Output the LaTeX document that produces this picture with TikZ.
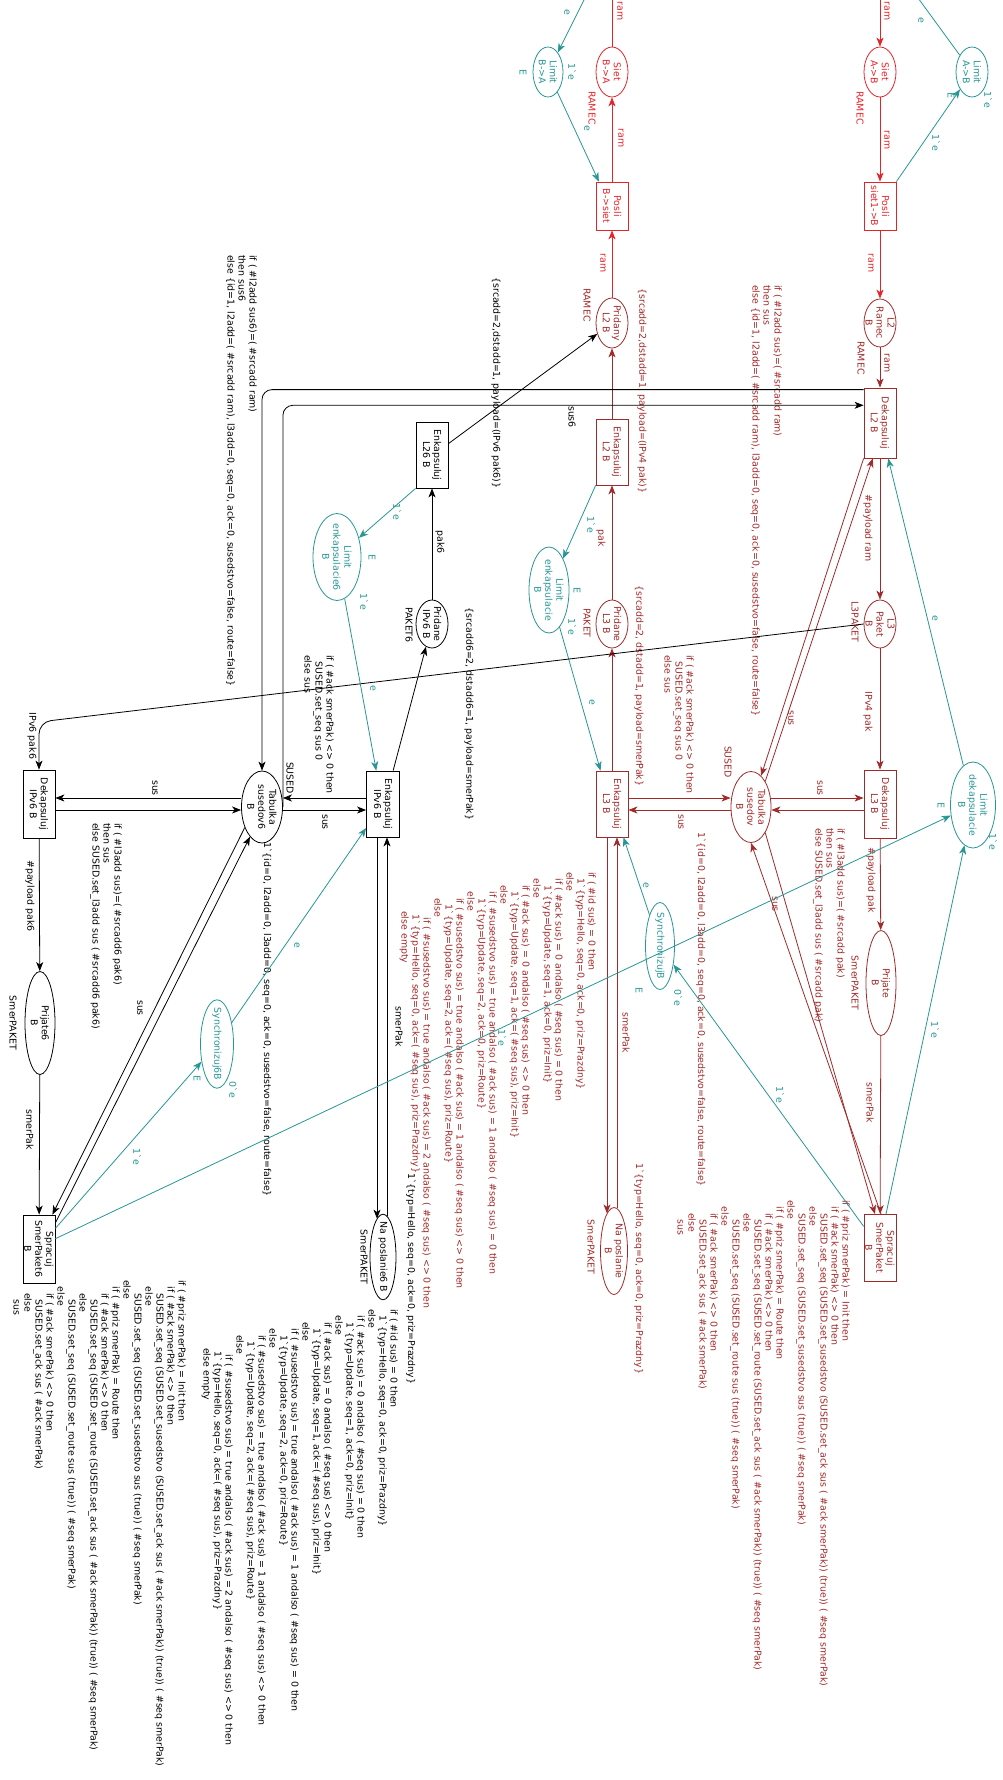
\documentclass[tikz,border=0pt]{standalone}
\usepackage{fontspec}
\setmainfont{DejaVu Sans}
\usetikzlibrary{shapes.geometric,arrows.meta,calc}
\definecolor{cred}{RGB}{232,35,40}
\definecolor{cdr}{RGB}{160,42,42}
\definecolor{cteal}{RGB}{40,150,150}
\newcommand\bq{\textasciigrave}
\newdimen\idtunit \idtunit=6.5pt
\newcommand\idt[1]{\hspace*{#1\idtunit}}
\newcommand\bigexpr{%
if ( \#id sus) = 0 then\\
\idt{1}1\bq\{typ=Hello, seq=0, ack=0, priz=Prazdny\}\\
else\\
\idt{1}if ( \#ack sus) = 0 andalso ( \#seq sus) = 0 then\\
\idt{2}1\bq\{typ=Update, seq=1, ack=0, priz=Init\}\\
\idt{1}else\\
\idt{2}if ( \#ack sus) = 0 andalso ( \#seq sus) <> 0 then\\
\idt{3}1\bq\{typ=Update, seq=1, ack=( \#seq sus), priz=Init\}\\
\idt{2}else\\
\idt{3}if ( \#susedstvo sus) = true andalso ( \#ack sus) = 1 andalso ( \#seq sus) = 0 then\\
\idt{4}1\bq\{typ=Update, seq=2, ack=0, priz=Route\}\\
\idt{3}else\\
\idt{4}if ( \#susedstvo sus) = true andalso ( \#ack sus) = 1 andalso ( \#seq sus) <> 0 then\\
\idt{5}1\bq\{typ=Update, seq=2, ack=( \#seq sus), priz=Route\}\\
\idt{4}else\\
\idt{7}if ( \#susedstvo sus) = true andalso ( \#ack sus) = 2 andalso ( \#seq sus) <> 0 then\\
\idt{6.5}1\bq\{typ=Hello, seq=0, ack=( \#seq sus), priz=Prazdny\}\\
\idt{6}else empty}
\newcommand\sprexpr{%
if ( \#priz smerPak) = Init then\\
\idt{1}if ( \#ack smerPak) <> 0 then\\
\idt{2}SUSED.set\_seq (SUSED.set\_susedstvo (SUSED.set\_ack sus ( \#ack smerPak)) (true)) ( \#seq smerPak)\\
\idt{1}else\\
\idt{2}SUSED.set\_seq (SUSED.set\_susedstvo sus (true)) ( \#seq smerPak)\\
else\\
\idt{1}if ( \#priz smerPak) = Route then\\
\idt{2}if ( \#ack smerPak) <> 0 then\\
\idt{3}SUSED.set\_seq (SUSED.set\_route (SUSED.set\_ack sus ( \#ack smerPak)) (true)) ( \#seq smerPak)\\
\idt{2}else\\
\idt{3}SUSED.set\_seq (SUSED.set\_route sus (true)) ( \#seq smerPak)\\
\idt{1}else\\
\idt{2}if ( \#ack smerPak) <> 0 then\\
\idt{3}SUSED.set\_ack sus ( \#ack smerPak)\\
\idt{2}else\\
\idt{3}sus}
\begin{document}
\begin{tikzpicture}[x=1pt,y=-1pt,
 every node/.style={font=\fontsize{9.4}{11}\selectfont, rotate=-90},
 pl/.style={ellipse, draw, line width=0.8pt, inner sep=-5pt, align=center},
 tr/.style={rectangle, draw, line width=0.8pt, inner sep=0pt, align=center},
 arcb/.style={line width=0.8pt, -{Stealth[length=9pt,width=7pt,inset=2.5pt]}},
 arR/.style={arcb, cred}, arD/.style={arcb, cdr}, arT/.style={arcb, cteal}, arK/.style={arcb, black},
 lb/.style={inner sep=0pt},
 blk/.style={inner sep=0pt, align=left, anchor=north west},
 ]
\useasboundingbox (0,0) rectangle (1002,1780);
\clip (0,0) rectangle (1002,1780);
\fill[white] (0,0) rectangle (1002,1780);

% ---------- places and transitions, module B (red) ----------
\node[pl,cred,minimum width=50pt,minimum height=32pt] (sietAB) at (880,72) {Siet\\A->B};
\node[pl,cteal,minimum width=50pt,minimum height=32pt] (limAB) at (972,72) {Limit\\A->B};
\node[tr,cred,minimum width=48pt,minimum height=32pt] (posliAB) at (880,206) {Posli\\siet1->B};
\node[pl,cdr,minimum width=48pt,minimum height=32pt] (l2ram) at (880,323) {L2\\Ramec\\B};
\node[tr,cdr,minimum width=70pt,minimum height=32pt] (dekL2) at (880,423) {Dekapsuluj\\L2 B};
\node[pl,cdr,minimum width=48pt,minimum height=32pt] (l3pak) at (880,624) {L3\\Paket\\B};
\node[tr,cdr,minimum width=68pt,minimum height=32pt] (dekL3) at (880,804) {Dekapsuluj\\L3 B};
\node[pl,cteal,minimum width=86pt,minimum height=45pt] (limdek) at (973,805) {Limit\\dekapsulacie\\B};
\node[pl,cdr,minimum width=71pt,minimum height=40pt] (tab) at (751,807) {Tabulka\\susedov\\B};
\node[pl,cdr,minimum width=105pt,minimum height=30pt] (prij) at (881,983) {Prijate\\B};
\node[tr,cdr,minimum width=67pt,minimum height=32pt] (sprac) at (880,1248) {Spracuj\\SmerPaket\\B};
\node[pl,cteal,minimum width=87pt,minimum height=29pt] (sync) at (660,946) {SynchronizujB};
\node[pl,cdr,minimum width=87pt,minimum height=27pt] (naposl) at (614,1251) {Na poslanie\\B};
\node[tr,cdr,minimum width=66pt,minimum height=32pt] (enkL3) at (612,804) {Enkapsuluj\\L3 B};
\node[pl,cdr,minimum width=48pt,minimum height=32pt] (pridL3) at (612,624) {Pridane\\L3 B};
\node[pl,cteal,minimum width=86pt,minimum height=40pt] (limenk) at (549,590) {Limit\\enkapsulacie\\B};
\node[tr,cdr,minimum width=66pt,minimum height=32pt] (enkL2) at (612,452) {Enkapsuluj\\L2 B};
\node[pl,cdr,minimum width=50pt,minimum height=32pt] (pridL2) at (612,323) {Pridany\\L2 B};
\node[tr,cred,minimum width=48pt,minimum height=32pt] (posliBA) at (612,206) {Posli\\B->siet};
\node[pl,cred,minimum width=50pt,minimum height=32pt] (sietBA) at (612,72) {Siet\\B->A};
\node[pl,cteal,minimum width=50pt,minimum height=30pt] (limBA) at (548,72) {Limit\\B->A};

% ---------- IPv6 part (black) ----------
\node[tr,minimum width=66pt,minimum height=32pt] (enkL26) at (432,455) {Enkapsuluj\\L26 B};
\node[pl,minimum width=48pt,minimum height=32pt] (pridIP6) at (432,624) {Pridane\\IPv6 B};
\node[pl,cteal,minimum width=87pt,minimum height=48pt] (limenk6) at (337,557) {Limit\\enkapsulacie6\\B};
\node[tr,minimum width=66pt,minimum height=33pt] (enkIP6) at (383,804) {Enkapsuluj\\IPv6 B};
\node[pl,minimum width=72pt,minimum height=41pt] (tab6) at (262,807) {Tabulka\\susedov6\\B};
\node[tr,minimum width=68pt,minimum height=32pt] (dekIP6) at (39,804) {Dekapsuluj\\IPv6 B};
\node[pl,minimum width=103pt,minimum height=30pt] (prij6) at (40,1023) {Prijate6\\B};
\node[tr,minimum width=68pt,minimum height=32pt] (sprac6) at (39,1249) {Spracuj\\SmerPaket6\\B};
\node[pl,cteal,minimum width=82pt,minimum height=33pt] (sync6) at (217,1044) {Synchronizuj6B};
\node[pl,minimum width=85pt,minimum height=26pt] (naposl6) at (383,1257) {Na poslanie6 B};

% ---------- red arcs ----------
\coordinate (topAB) at (880,0);
\coordinate (topBA) at (612,0);
\draw[arR] (topAB) -- (sietAB);
\draw[arR] (sietAB) -- (posliAB);
\draw[arR] (posliAB) -- (l2ram);
\draw[arR] (pridL2) -- (posliBA);
\draw[arR] (posliBA) -- (sietBA);
\draw[cred,line width=0.8pt] (sietBA) -- (topBA);
\node[lb,cred] (tRa) at (887,11) {ram};
\node[lb,cred] (tRb) at (887,140) {ram};
\node[lb,cred] (tRc) at (871,263) {ram};
\node[lb,cred] (tRd) at (620,11) {ram};
\node[lb,cred] (tRe) at (621,138) {ram};
\node[lb,cred] (tRf) at (603,263) {ram};
\node[lb,cred] (tRg) at (860,108) {RAMEC};
\node[lb,cred] (tRh) at (592,108) {RAMEC};

% ---------- dark red arcs ----------
\draw[arD] (l2ram) -- (dekL2);
\draw[arD] (dekL2) -- (l3pak);
\draw[arD] (l3pak) -- (dekL3);
\draw[arD] (dekL3) -- (prij);
\draw[arD] (prij) -- (sprac);
\draw[arD] ($(tab.north)+(0,-9)$) -- ($(dekL3.south)+(0,-6)$);
\draw[arD] ($(dekL3.south)+(0,6)$) -- ($(tab.north)+(0,3)$);
\draw[arD] (dekL2.south east) -- (tab);
\draw[arD] (tab.151) -- ($(dekL2.south east)!0.28!(dekL2.north east)$);
\draw[arD] ($(sprac.west)+(1,0)$) -- (tab.east);
\draw[arD] (tab.29) -- ($(sprac.west)+(-5,0)$);
\draw[arD] ($(enkL3.north)+(0,-6)$) -- ($(tab.south)+(0,-9)$);
\draw[arD] ($(tab.south)+(0,3)$) -- ($(enkL3.north)+(0,6)$);
\draw[arD] (enkL3) -- (pridL3);
\draw[arD] (pridL3) -- (enkL2);
\draw[arD] (enkL2) -- (pridL2);
\draw[arD] ($(enkL3.east)+(-5,0)$) -- ($(naposl.west)+(-7,6.3)$);
\draw[arD] ($(naposl.west)+(3,1.1)$) -- ($(enkL3.east)+(5,0)$);

\node[lb,cdr] (tDa) at (887,363) {ram};
\node[lb,cdr] (tDb) at (861,358) {RAMEC};
\node[lb,cdr] (tDc) at (868,528) {\#payload ram};
\node[lb,cdr] (tDd) at (855,622) {L3PAKET};
\node[lb,cdr] (tDe) at (868,712) {IPv4 pak};
\node[lb,cdr] (tDf) at (871,880) {\#payload pak};
\node[lb,cdr] (tDg) at (855,983) {SmerPAKET};
\node[lb,cdr] (tDh) at (870,1103) {smerPak};
\node[lb,cdr] (tDi) at (820,788) {sus};
\node[lb,cdr] (tDj) at (681,822) {sus};
\node[lb,cdr] (tDk) at (791,718) {sus};
\node[lb,cdr] (tDl) at (775,904) {sus};
\node[lb,cdr] (tDm) at (728,762) {SUSED};
\node[lb,cdr] (tDn) at (601,538) {pak};
\node[lb,cdr] (tDo) at (587,623) {PAKET};
\node[lb,cdr] (tDp) at (587,305) {RAMEC};
\node[lb,cdr] (tDq) at (626,1033) {smerPak};
\node[lb,cdr] (tDr) at (591,1247) {SmerPAKET};
\node[lb,cdr] (tDs) at (639,686) {\{srcadd=2, dstadd=1, payload=smerPak\}};
\node[lb,cdr] (tDt) at (642,391) {\{srcadd=2,dstadd=1, payload=(IPv4 pak)\}};
\node[lb,cdr,anchor=west] (tDu) at (701,832) {1\bq\{id=0, l2add=0, l3add=0, seq=0, ack=0, susedstvo=false, route=false\}};
\node[lb,cdr,anchor=west] (tDv) at (639,1163) {1\bq\{typ=Hello, seq=0, ack=0, priz=Prazdny\}};
\node[blk,cdr] (bDa) at (845,828) {if ( \#l3add sus)=( \#srcadd pak)\\then sus\\else SUSED.set\_l3add sus ( \#srcadd pak)};
\node[blk,cdr] (bDb) at (782,285) {if ( \#l2add sus)=( \#srcadd ram)\\then sus\\else \{id=1, l2add=( \#srcadd ram), l3add=0, seq=0, ack=0, susedstvo=false, route=false\}};
\node[blk,cdr] (bDc) at (694,655) {if ( \#ack smerPak) <> 0 then\\\idt{1}SUSED.set\_seq sus 0\\else sus};
\node[blk,cdr] (bDd) at (596,872) {\bigexpr};
\node[blk,cdr] (bDe) at (850,1200) {\sprexpr};

% ---------- teal arcs, module B ----------
\coordinate (topLimAB) at (919.5,0);
\coordinate (topLimBA) at (584,0);
\draw[arT] (posliAB.north west) -- (limAB);
\draw[cteal,line width=0.8pt] (limAB) -- (topLimAB);
\draw[arT] (topLimBA) -- (limBA);
\draw[arT] (limBA) -- ($(posliBA.south west)!0.1!(posliBA.north west)$);
\draw[arT] (enkL2.south east) -- (limenk);
\draw[arT] (limenk) -- ($(enkL3.south west)!0.15!(enkL3.north west)$);
\draw[arT] (limdek) -- ($(dekL2.south east)!0.75!(dekL2.north east)$);
\draw[arT] ($(sprac.west)+(6,0)$) -- (limdek);
\draw[arT] ($(sprac.south west)!0.18!(sprac.south east)$) -- (sync);
\draw[arT] (sync) -- ($(enkL3.south east)!0.85!(enkL3.north east)$);

\node[lb,cteal] (tTa) at (936,143) {1\bq e};
\node[lb,cteal] (tTb) at (921,20) {e};
\node[lb,cteal] (tTc) at (988,100) {1\bq e};
\node[lb,cteal] (tTd) at (951,95) {E};
\node[lb,cteal] (tTe) at (567,12) {e};
\node[lb,cteal] (tTf) at (587,128) {e};
\node[lb,cteal] (tTg) at (572,72) {1\bq e};
\node[lb,cteal] (tTh) at (523,72) {E};
\node[lb,cteal] (tTi) at (591,525) {1\bq e};
\node[lb,cteal] (tTj) at (592,702) {e};
\node[lb,cteal] (tTk) at (577,590) {E};
\node[lb,cteal] (tTl) at (572,627) {1\bq e};
\node[lb,cteal] (tTm) at (935,618) {e};
\node[lb,cteal] (tTn) at (935,1030) {1\bq e};
\node[lb,cteal] (tTo) at (993,842) {1\bq e};
\node[lb,cteal] (tTp) at (941,805) {E};
\node[lb,cteal] (tTq) at (780,1095) {1\bq e};
\node[lb,cteal] (tTr) at (678,998) {0\bq e};
\node[lb,cteal] (tTs) at (639,990) {E};
\node[lb,cteal] (tTt) at (646,885) {e};

% ---------- black arcs ----------
\coordinate (cIP6) at (39,722);
\draw[arK] ($(enkL26.north west)!0.33!(enkL26.north east)$) -- (pridL2);
\draw[arK] (pridIP6) -- (enkL26);
\draw[arK] ($(enkIP6.south west)!0.8!(enkIP6.north west)$) -- (pridIP6);
\draw[arK, rounded corners=12pt] (l3pak.south) -- (cIP6) -- (dekIP6);
\draw[arK] (dekIP6) -- (prij6);
\draw[arK] (prij6) -- (sprac6);
\draw[arK] ($(tab6.south)+(0,-9)$) -- ($(dekIP6.north)+(0,-6)$);
\draw[arK] ($(dekIP6.north)+(0,6)$) -- ($(tab6.south)+(0,3)$);
\draw[arK] ($(enkIP6.south)+(0,-6)$) -- ($(tab6.north)+(0,-9)$);
\draw[arK] ($(tab6.north)+(0,3)$) -- ($(enkIP6.south)+(0,6)$);
\draw[arK, rounded corners=10pt] ($(dekL2.south west)+(0,2)$) -| (tab6);
\draw[arK, rounded corners=10pt] (tab6.north) |- ($(dekL2.south west)!0.25!(dekL2.south east)$);
\draw[arK] (tab6.-40) -- ($(sprac6.north west)+(-3,0)$);
\draw[arK] ($(sprac6.north west)!0.12!(sprac6.north east)$) -- (tab6.-22);
\draw[arK] ($(enkIP6.east)+(-6,0)$) -- ($(naposl6.west)+(-6,4.8)$);
\draw[arK] ($(naposl6.west)+(4,2.1)$) -- ($(enkIP6.east)+(4,0)$);

\node[lb] (tKa) at (496,383) {\{srcadd=2,dstadd=1, payload=(IPv6 pak6)\}};
\node[lb] (tKb) at (440,542) {pak6};
\node[lb] (tKc) at (469,714) {\{srcadd6=2, dstadd6=1, payload=smerPak\}};
\node[lb] (tKd) at (409,625) {PAKET6};
\node[lb] (tKe) at (32,736) {IPv6 pak6};
\node[lb] (tKf) at (30,896) {\#payload pak6};
\node[lb] (tKg) at (30,1130) {smerPak};
\node[lb] (tKh) at (13,1023) {SmerPAKET};
\node[lb] (tKi) at (155,788) {sus};
\node[lb] (tKj) at (325,822) {sus};
\node[lb] (tKk) at (290,778) {SUSED};
\node[lb] (tKl) at (572,417) {sus6};
\node[lb] (tKm) at (140,1008) {sus};
\node[lb] (tKn) at (399,1027) {smerPak};
\node[lb] (tKo) at (364,1257) {SmerPAKET};
\node[lb,anchor=west] (tKp) at (411,1173) {1\bq\{typ=Hello, seq=0, ack=0, priz=Prazdny\}};
\node[lb,anchor=west] (tKq) at (267,842) {1\bq\{id=0, l2add=0, l3add=0, seq=0, ack=0, susedstvo=false, route=false\}};
\node[blk] (bKa) at (122,823) {if ( \#l3add sus)=( \#srcadd6 pak6)\\then sus\\else SUSED.set\_l3add sus ( \#srcadd6 pak6)};
\node[blk] (bKb) at (257,255) {if ( \#l2add sus6)=( \#srcadd ram)\\then sus6\\else \{id=1, l2add=( \#srcadd ram), l3add=0, seq=0, ack=0, susedstvo=false, route=false\}};
\node[blk] (bKc) at (334,655) {if ( \#ack smerPak) <> 0 then\\\idt{1}SUSED.set\_seq sus 0\\else sus};
\node[blk] (bKd) at (398,1309) {\bigexpr};
\node[blk] (bKe) at (186,1280) {\sprexpr};

% ---------- teal arcs, IPv6 part ----------
\draw[arT] (enkL26.south east) -- (limenk6);
\draw[arT] (limenk6) -- ($(enkIP6.south west)!0.3!(enkIP6.north west)$);
\draw[arT] ($(sprac6.north west)!0.2!(sprac6.north east)$) -- (sync6);
\draw[arT] (sync6) -- ($(enkIP6.south)+(0,24)$);
\draw[arT] ($(sprac6.north west)!0.35!(sprac6.north east)$) -- (limdek);

\node[lb,cteal] (tUa) at (397,512) {1\bq e};
\node[lb,cteal] (tUb) at (373,688) {e};
\node[lb,cteal] (tUc) at (372,557) {E};
\node[lb,cteal] (tUd) at (364,602) {1\bq e};
\node[lb,cteal] (tUe) at (137,1157) {1\bq e};
\node[lb,cteal] (tUf) at (233,1090) {0\bq e};
\node[lb,cteal] (tUg) at (197,1078) {E};
\node[lb,cteal] (tUh) at (297,945) {e};
\node[lb,cteal] (tUi) at (502,1038) {1\bq e};
\end{tikzpicture}
\end{document}
